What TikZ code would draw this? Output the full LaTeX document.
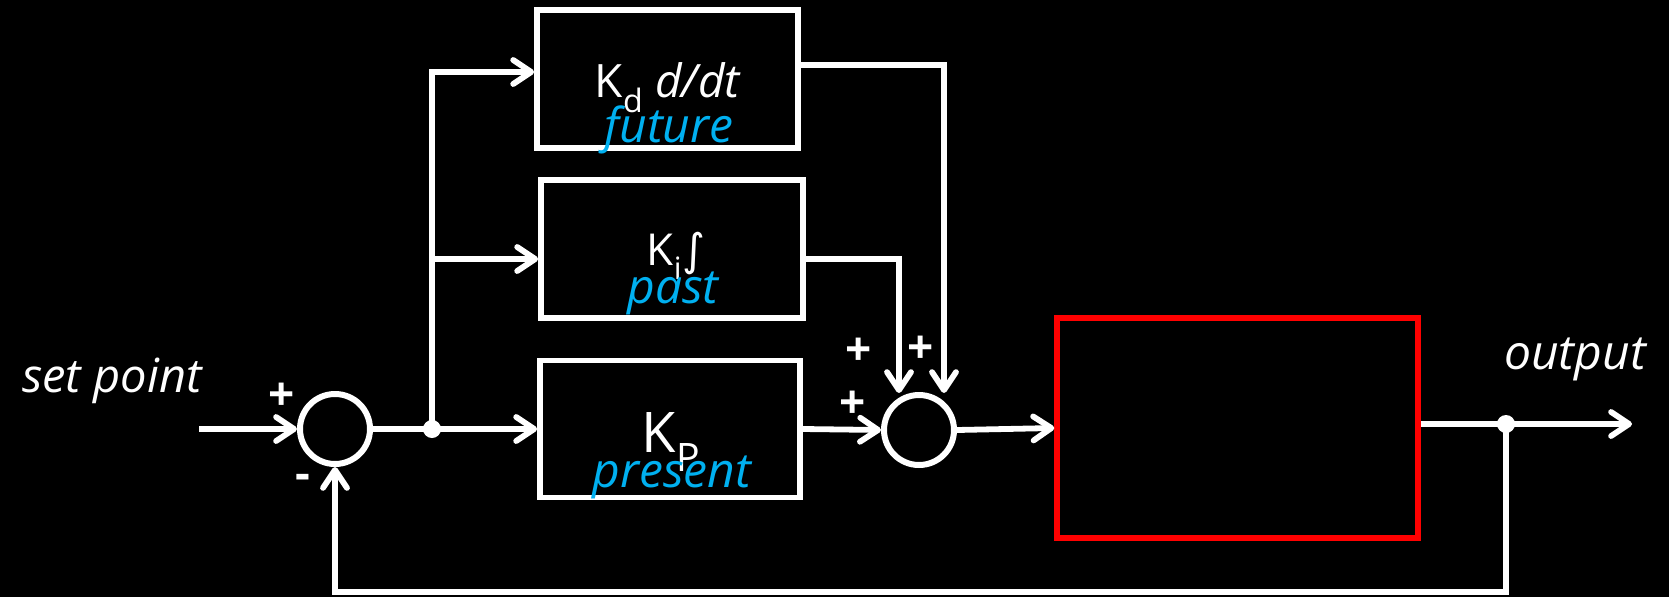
\documentclass[tikz,border=0pt]{standalone}
\usepackage{fontspec}
\setmainfont{Open Sans}
\newfontfamily\symfont{DejaVu Sans}
\usetikzlibrary{arrows.meta,calc}
\definecolor{skyblue}{HTML}{00B0F0}
\definecolor{boxred}{HTML}{FF0000}
\begin{document}
\begin{tikzpicture}[x=1pt,y=-1pt,
  wire/.style={draw=white, line width=5.8pt},
  arr/.style={wire, -{Straight Barb[length=18pt,width=24pt,line cap=round,line join=round]}},
  blk/.style={draw=white, line width=5.8pt, fill=black, inner sep=0pt},
  sumnode/.style={circle, draw=white, line width=6pt, minimum size=70pt, inner sep=0pt},
  dotnode/.style={circle, fill=white, minimum size=18pt, inner sep=0pt},
  wtext/.style={text=white, inner sep=0pt, anchor=base},
  btext/.style={text=skyblue, inner sep=0pt, anchor=base, font=\itshape\fontsize{48}{52}\selectfont},
  sign/.style={text=white, inner sep=0pt, font=\bfseries\fontsize{46}{50}\selectfont}
]
\fill[black] (0,0) rectangle (1669,597);
\useasboundingbox (0,0) rectangle (1669,597);

% blocks
\node[blk, minimum width=261pt, minimum height=137.5pt] (kd) at (667.5,79) {};
\node[blk, minimum width=262pt, minimum height=137.5pt] (ki) at (672,249) {};
\node[blk, minimum width=260pt, minimum height=137pt] (kp) at (670,429) {};
\node[draw=boxred, line width=6pt, inner sep=0pt, minimum width=360.5pt, minimum height=220pt] (plant) at (1237.5,428) {};

% summing junctions and dots
\node[sumnode] (s1) at (335,429) {};
\node[sumnode] (s2) at (919,430) {};
\node[dotnode] (j1) at (432,429) {};
\node[dotnode] (j2) at (1506,424) {};
\coordinate (sp) at (199,429);
\coordinate (out) at (1632,424);

% connectors
\draw[arr] (sp) -- (s1.west);
\draw[wire] (s1.east) -- (j1.center);
\draw[arr] (j1.center) -- (kp.west);
\draw[arr] (j1.center) |- ($(ki.west)+(0,10)$);
\draw[arr] (j1.center) |- ($(kd.west)+(0,-7)$);
\draw[arr] ($(kd.east)+(0,-14)$) -| ($(s2.center)+(25,-37)$);
\draw[arr] ($(ki.east)+(0,10)$) -| ($(s2.center)+(-20,-37)$);
\draw[arr] (kp.east) -- (s2.west);
\draw[arr] (s2.east) -- (plant.west);
\draw[wire] ($(plant.east)+(0,-4)$) -- (j2.center);
\draw[arr] (j2.center) -- (out);
\draw[arr] (j2.center) -- ++(0,168) -| (s1.south);

% texts
\node[wtext, font=\fontsize{46}{50}\selectfont] (tkd) at (668,97) {K\textsubscript{d} \textit{d/dt}};
\node[btext] (tfut) at (669,142) {future};
\node[wtext, font=\fontsize{44}{50}\selectfont] (tki) at (676,265) {K\textsubscript{i}{\symfont ∫}};
\node[btext] (tpast) at (673,303) {past};
\node[wtext, font=\fontsize{56}{60}\selectfont] (tkp) at (671,452) {K\textsubscript{P}};
\node[btext] (tpres) at (672,487) {present};
\node[text=white, inner sep=0pt, font=\itshape\fontsize{47}{52}\selectfont] (lsp) at (112,381) {set point};
\node[text=white, inner sep=0pt, font=\itshape\fontsize{48}{52}\selectfont] (lout) at (1575,359) {output};

\node[sign] (p1) at (282,397) {+};
\node[sign] (m1) at (303,482) {-};
\node[sign] (p2) at (859,352) {+};
\node[sign] (p3) at (921,350) {+};
\node[sign] (p4) at (853,405) {+};
\end{tikzpicture}
\end{document}
